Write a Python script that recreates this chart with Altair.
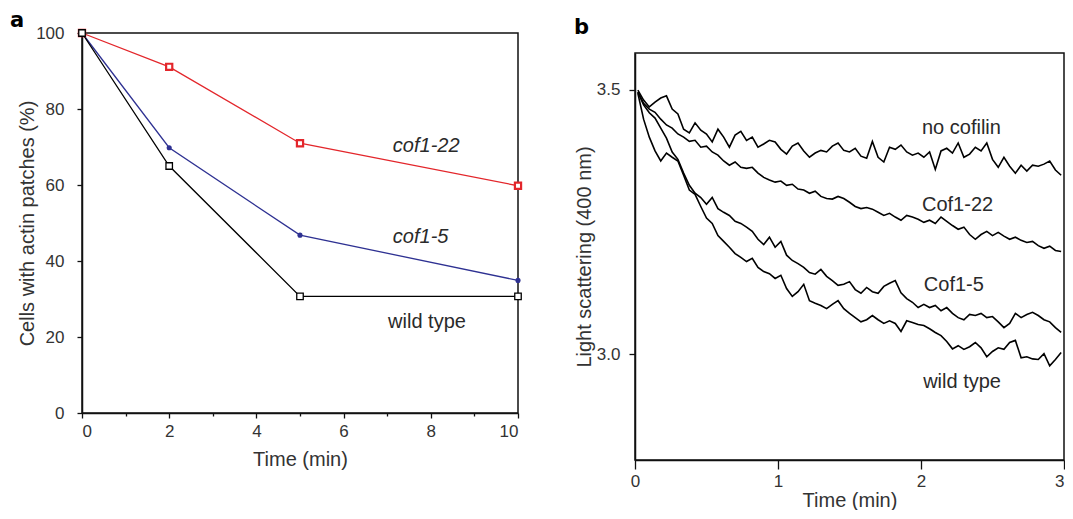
import altair as alt
import pandas as pd

# ---------------- Panel a data ----------------
time_a = [0, 2, 5, 10]
cof1_22_a = [100, 91.1, 71.0, 59.8]
cof1_5_a = [100, 69.8, 46.8, 34.9]
wild_type_a = [100, 65.0, 30.7, 30.7]

label_a_text = ["cof1-22", "cof1-5", "wild type"]
label_a_x = [7.13, 7.13, 7.02]
label_a_y = [70.3, 46.3, 23.9]
label_a_italic = [True, True, False]

# ---------------- Panel b data ----------------
time_b = [0.02, 0.06, 0.10, 0.14, 0.18, 0.22, 0.26, 0.30, 0.34, 0.38,
          0.42, 0.46, 0.50, 0.54, 0.58, 0.62, 0.66, 0.70, 0.74, 0.78,
          0.82, 0.86, 0.90, 0.94, 0.98, 1.02, 1.06, 1.10, 1.14, 1.18,
          1.22, 1.26, 1.30, 1.34, 1.38, 1.42, 1.46, 1.50, 1.54, 1.58,
          1.62, 1.66, 1.70, 1.74, 1.78, 1.82, 1.86, 1.90, 1.94, 1.98,
          2.02, 2.06, 2.10, 2.14, 2.18, 2.22, 2.26, 2.30, 2.34, 2.38,
          2.42, 2.46, 2.50, 2.54, 2.58, 2.62, 2.66, 2.70, 2.74, 2.78,
          2.82, 2.86, 2.90, 2.94, 2.98]

no_cofilin_b = [3.499, 3.480, 3.467, 3.476, 3.484, 3.488, 3.463, 3.454, 3.425, 3.418,
                3.437, 3.423, 3.416, 3.401, 3.425, 3.410, 3.391, 3.414, 3.421, 3.404,
                3.410, 3.391, 3.397, 3.404, 3.401, 3.387, 3.378, 3.393, 3.399, 3.384,
                3.372, 3.380, 3.385, 3.382, 3.393, 3.399, 3.385, 3.382, 3.389, 3.374,
                3.370, 3.402, 3.372, 3.363, 3.391, 3.387, 3.395, 3.382, 3.376, 3.380,
                3.372, 3.382, 3.349, 3.384, 3.389, 3.380, 3.399, 3.372, 3.378, 3.391,
                3.384, 3.399, 3.368, 3.353, 3.372, 3.355, 3.342, 3.357, 3.346, 3.357,
                3.355, 3.359, 3.365, 3.348, 3.338]

cof1_22_b = [3.495, 3.474, 3.463, 3.457, 3.444, 3.433, 3.427, 3.416, 3.410, 3.402,
             3.404, 3.391, 3.393, 3.382, 3.376, 3.365, 3.357, 3.363, 3.353, 3.351,
             3.353, 3.342, 3.334, 3.329, 3.325, 3.327, 3.319, 3.321, 3.312, 3.310,
             3.304, 3.308, 3.298, 3.294, 3.293, 3.298, 3.294, 3.287, 3.279, 3.275,
             3.277, 3.274, 3.268, 3.262, 3.266, 3.259, 3.253, 3.262, 3.259, 3.255,
             3.249, 3.253, 3.247, 3.259, 3.251, 3.243, 3.236, 3.240, 3.226, 3.217,
             3.226, 3.232, 3.224, 3.230, 3.223, 3.217, 3.221, 3.215, 3.211, 3.213,
             3.205, 3.200, 3.204, 3.196, 3.194]

cof1_5_b = [3.495, 3.471, 3.456, 3.446, 3.427, 3.408, 3.382, 3.368, 3.342, 3.319,
            3.304, 3.296, 3.283, 3.296, 3.275, 3.268, 3.262, 3.251, 3.247, 3.240,
            3.232, 3.217, 3.207, 3.221, 3.202, 3.213, 3.187, 3.177, 3.171, 3.164,
            3.154, 3.151, 3.160, 3.147, 3.139, 3.130, 3.132, 3.137, 3.122, 3.115,
            3.126, 3.118, 3.115, 3.128, 3.134, 3.139, 3.116, 3.105, 3.098, 3.088,
            3.094, 3.088, 3.092, 3.082, 3.088, 3.077, 3.069, 3.065, 3.075, 3.073,
            3.077, 3.069, 3.071, 3.061, 3.050, 3.058, 3.077, 3.069, 3.075, 3.079,
            3.073, 3.065, 3.061, 3.050, 3.041]

wild_type_b = [3.493, 3.444, 3.410, 3.384, 3.365, 3.380, 3.372, 3.365, 3.338, 3.310,
               3.302, 3.279, 3.257, 3.247, 3.224, 3.213, 3.202, 3.190, 3.183, 3.175,
               3.181, 3.164, 3.156, 3.152, 3.143, 3.149, 3.124, 3.109, 3.118, 3.132,
               3.101, 3.096, 3.092, 3.086, 3.094, 3.101, 3.086, 3.077, 3.069, 3.061,
               3.065, 3.073, 3.065, 3.058, 3.063, 3.058, 3.043, 3.063, 3.060, 3.056,
               3.054, 3.048, 3.041, 3.035, 3.024, 3.010, 3.016, 3.009, 3.014, 3.022,
               3.012, 2.995, 3.005, 3.012, 3.009, 3.022, 3.026, 2.993, 2.995, 2.991,
               2.990, 3.001, 2.978, 2.990, 3.003]

label_b_text = ["no cofilin", "Cof1-22", "Cof1-5", "wild type"]
label_b_x = [2.007, 2.007, 2.02, 2.015]
label_b_y = [3.428, 3.282, 3.131, 2.948]

FONT = "Liberation Sans"
TAGFONT = "DejaVu Sans"
TXT = "#2a2a2a"
RED = "#e3262b"
BLUE = "#2e3192"
FRAME = "#111"

# panel geometry (pixels)
WA, HA = 436, 380
WB, HB, B_TOP = 429, 427, 20   # panel b frame starts 20px below panel a's top

# ---------------- build tables ----------------
rows_a = []
for name, vals in [("cof1-22", cof1_22_a), ("cof1-5", cof1_5_a), ("wild type", wild_type_a)]:
    for t, v in zip(time_a, vals):
        rows_a.append({"t": t, "v": v, "s": name})
df_a = pd.DataFrame(rows_a)

df_lab_a = pd.DataFrame({"x": label_a_x, "y": label_a_y, "text": label_a_text, "it": label_a_italic})

rows_b = []
for name, vals in [("no cofilin", no_cofilin_b), ("Cof1-22", cof1_22_b),
                   ("Cof1-5", cof1_5_b), ("wild type", wild_type_b)]:
    for t, v in zip(time_b, vals):
        rows_b.append({"t": t, "v": v, "s": name})
df_b = pd.DataFrame(rows_b)

df_lab_b = pd.DataFrame({"x": label_b_x, "y": label_b_y, "text": label_b_text})

one = pd.DataFrame({"k": [0]})


def tag(letter, x_off, y_base):
    return alt.Chart(one).mark_text(
        text=letter, align="left", baseline="alphabetic", font=TAGFONT, fontSize=21,
        fontWeight="bold", color="#000"
    ).encode(x=alt.value(x_off), y=alt.value(y_base))


# ---------------- panel a ----------------
xa = alt.X("t:Q", scale=alt.Scale(domain=[0, 10], nice=False, zero=False),
           axis=alt.Axis(values=list(range(11)), title="Time (min)", format="d",
                         labelExpr="datum.value % 2 == 0 ? datum.label : ''",
                         tickSize={"condition": {"test": "datum.value % 2 == 0", "value": 5}, "value": 3},
                         labelPadding=5, titlePadding=10))
ya = alt.Y("v:Q", scale=alt.Scale(domain=[0, 100], nice=False),
           axis=alt.Axis(values=list(range(0, 101, 10)), title="Cells with actin patches (%)", format="d",
                         labelExpr="datum.value % 20 == 0 ? datum.label : ''",
                         tickSize={"condition": {"test": "datum.value % 20 == 0", "value": 5}, "value": 3},
                         labelPadding=13, titlePadding=-2))

base_a = alt.Chart(df_a)

lines_a = base_a.mark_line(strokeWidth=1.3).encode(
    x=xa, y=ya,
    color=alt.Color("s:N", scale=alt.Scale(domain=["cof1-22", "cof1-5", "wild type"],
                                           range=[RED, BLUE, "#000000"]), legend=None),
)

pts_red = base_a.transform_filter(alt.datum.s == "cof1-22").mark_point(
    shape="square", filled=False, stroke=RED, fill="white", fillOpacity=1, strokeWidth=2.2, size=38, opacity=1
).encode(x="t:Q", y="v:Q")

pts_blue = base_a.transform_filter(alt.datum.s == "cof1-5").mark_point(
    shape="circle", filled=True, color=BLUE, size=26, opacity=1
).encode(x="t:Q", y="v:Q")

pts_black = base_a.transform_filter(alt.datum.s == "wild type").mark_point(
    shape="square", filled=False, stroke="#000", fill="white", fillOpacity=1, strokeWidth=1.3, size=42, opacity=1
).encode(x="t:Q", y="v:Q")

lab_a_it = alt.Chart(df_lab_a).transform_filter(alt.datum.it == True).mark_text(
    align="left", baseline="middle", font=FONT, fontSize=20, fontStyle="italic", color=TXT
).encode(x="x:Q", y="y:Q", text="text:N")

lab_a_n = alt.Chart(df_lab_a).transform_filter(alt.datum.it == False).mark_text(
    align="left", baseline="middle", font=FONT, fontSize=20, color=TXT
).encode(x="x:Q", y="y:Q", text="text:N")

spacer_a = alt.Chart(one).mark_rule(opacity=0).encode(
    x=alt.value(0), x2=alt.value(1), y=alt.value(-23.5), y2=alt.value(-23.5))

chart_a = alt.layer(lines_a, pts_red, pts_blue, pts_black, lab_a_it, lab_a_n,
                    tag("a", -72, -6), spacer_a).properties(
    width=WA, height=HA, view=alt.ViewBackground(stroke=FRAME, strokeWidth=1.5))

# ---------------- panel b ----------------
xb = alt.X("t:Q", scale=alt.Scale(domain=[0, 3], nice=False, zero=False),
           axis=alt.Axis(values=[0, 1, 2, 3], format="d", title="Time (min)", tickSize=9,
                         labelAlign={"condition": {"test": "datum.value == 3", "value": "right"},
                                     "value": "center"},
                         labelPadding=4, titlePadding=1))
yb = alt.Y("v:Q", scale=alt.Scale(domain=[2.8, 3.569], nice=False, zero=False, range=[HB, B_TOP]),
           axis=alt.Axis(values=[3.0, 3.5], format=".1f", title="Light scattering (400 nm)",
                         tickSize=6, labelPadding=9, titlePadding=2))

lines_b = alt.Chart(df_b).mark_line(strokeWidth=1.6, color="#000").encode(
    x=xb, y=yb, detail="s:N")

lab_b = alt.Chart(df_lab_b).mark_text(
    align="left", baseline="middle", font=FONT, fontSize=20, color=TXT
).encode(x="x:Q", y="y:Q", text="text:N")

frame_b = alt.Chart(one).mark_rect(filled=False, stroke=FRAME, strokeWidth=1.5).encode(
    x=alt.value(0), x2=alt.value(WB), y=alt.value(B_TOP), y2=alt.value(HB))

chart_b = alt.layer(lines_b, lab_b, frame_b, tag("b", -61, 1)).properties(
    width=WB, height=HB, view=alt.ViewBackground(stroke="transparent", strokeWidth=0))

chart = alt.hconcat(chart_a, chart_b, spacing=47).properties(
    padding={"left": 1, "top": 0, "right": 0, "bottom": 0}
).configure_axis(
    labelFont=FONT, labelFontSize=17, labelColor="#333",
    titleFont=FONT, titleFontSize=20, titleFontWeight="normal", titleColor="#333",
    domainColor=FRAME, domainWidth=1.5, tickColor=FRAME, tickWidth=1.3, grid=False
)

chart.save("out.html", embed_options={"renderer": "svg", "actions": False})
